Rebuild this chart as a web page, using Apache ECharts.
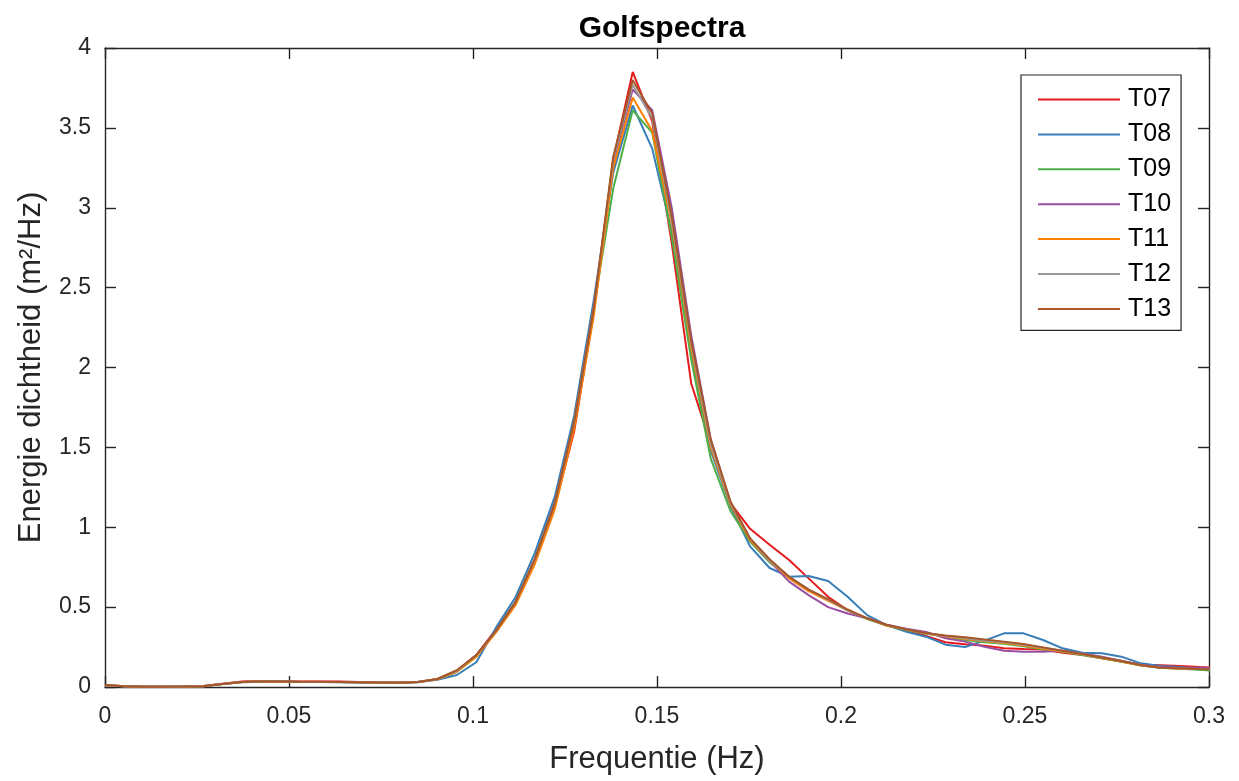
<!DOCTYPE html>
<html>
<head>
<meta charset="utf-8">
<script src="https://cdn.jsdelivr.net/npm/echarts@6/dist/echarts.min.js"></script>
<style>html,body{margin:0;padding:0;background:#fff}#c{width:1239px;height:781px}</style>
</head>
<body>
<div id="c"></div>
<script>
const freqs = [0,0.0053,0.0106,0.0159,0.0212,0.0266,0.0319,0.0372,0.0425,0.0478,0.0531,0.0584,0.0637,0.0690,0.0744,0.0797,0.0850,0.0903,0.0956,0.1009,0.1062,0.1115,0.1168,0.1222,0.1275,0.1328,0.1381,0.1434,0.1487,0.1540,0.1593,0.1646,0.1700,0.1753,0.1806,0.1859,0.1912,0.1965,0.2018,0.2071,0.2124,0.2178,0.2231,0.2284,0.2337,0.2390,0.2443,0.2496,0.2549,0.2602,0.2656,0.2709,0.2762,0.2815,0.2868,0.2921,0.2974,0.3027];
const seriesNames = ['T07','T08','T09','T10','T11','T12','T13'];
const T07 = [0.012,0.005,0.002,0.002,0.003,0.006,0.02,0.034,0.037,0.036,0.034,0.035,0.035,0.032,0.03,0.028,0.032,0.05,0.1,0.2,
 0.36,0.53,0.8,1.13,1.6,2.35,3.3,3.85,3.54,2.78,1.9,1.52,1.15,0.99,0.89,0.795,0.68,0.565,0.48,0.43,0.385,0.355,0.32,0.28,0.267,0.259,0.242,0.238,0.235,0.215,0.2,0.18,0.16,0.14,0.136,0.132,0.125,0.12];
const T08 = [0.01,0.004,0.002,0.002,0.003,0.005,0.018,0.03,0.033,0.033,0.031,0.031,0.03,0.028,0.027,0.026,0.03,0.045,0.075,0.155,
 0.37,0.56,0.84,1.19,1.7,2.42,3.22,3.64,3.37,2.85,2.1,1.48,1.13,0.88,0.745,0.69,0.695,0.664,0.565,0.45,0.388,0.345,0.315,0.265,0.25,0.29,0.336,0.336,0.294,0.242,0.215,0.211,0.19,0.148,0.131,0.125,0.11,0.1];
const T09 = [0.011,0.004,0.002,0.002,0.003,0.005,0.018,0.031,0.034,0.034,0.032,0.032,0.031,0.029,0.028,0.027,0.031,0.048,0.095,0.19,
 0.35,0.53,0.8,1.15,1.66,2.37,3.12,3.61,3.47,2.82,2.05,1.43,1.1,0.91,0.78,0.69,0.61,0.545,0.48,0.425,0.385,0.355,0.335,0.315,0.294,0.28,0.27,0.255,0.235,0.22,0.2,0.18,0.158,0.135,0.12,0.115,0.108,0.1];
const T10 = [0.011,0.004,0.002,0.002,0.003,0.005,0.019,0.031,0.034,0.034,0.032,0.032,0.031,0.029,0.028,0.027,0.031,0.049,0.098,0.2,
 0.35,0.53,0.8,1.15,1.66,2.37,3.28,3.74,3.61,3.0,2.2,1.55,1.15,0.92,0.79,0.66,0.575,0.5,0.46,0.43,0.39,0.365,0.345,0.305,0.284,0.252,0.227,0.221,0.221,0.227,0.21,0.19,0.165,0.14,0.125,0.122,0.12,0.118];
const T11 = [0.011,0.004,0.002,0.002,0.003,0.005,0.018,0.031,0.034,0.033,0.032,0.032,0.031,0.029,0.028,0.027,0.031,0.048,0.095,0.19,
 0.34,0.51,0.77,1.11,1.62,2.32,3.25,3.69,3.48,2.9,2.12,1.5,1.14,0.92,0.79,0.68,0.6,0.54,0.48,0.43,0.385,0.36,0.335,0.318,0.3,0.287,0.275,0.26,0.24,0.222,0.205,0.182,0.16,0.135,0.12,0.115,0.112,0.11];
const T12 = [0.011,0.004,0.002,0.002,0.003,0.005,0.019,0.032,0.034,0.034,0.032,0.032,0.031,0.029,0.028,0.027,0.031,0.049,0.1,0.2,
 0.35,0.53,0.8,1.15,1.66,2.37,3.3,3.77,3.56,2.92,2.15,1.52,1.15,0.93,0.79,0.69,0.61,0.545,0.48,0.43,0.388,0.36,0.335,0.32,0.305,0.29,0.28,0.265,0.245,0.225,0.207,0.184,0.163,0.138,0.121,0.117,0.113,0.11];
const T13 = [0.012,0.004,0.002,0.002,0.003,0.005,0.019,0.032,0.035,0.034,0.033,0.033,0.032,0.03,0.028,0.027,0.032,0.05,0.105,0.2,
 0.35,0.53,0.8,1.15,1.66,2.37,3.32,3.8,3.59,2.95,2.17,1.55,1.16,0.93,0.8,0.69,0.61,0.55,0.485,0.43,0.39,0.36,0.338,0.322,0.311,0.298,0.284,0.269,0.248,0.227,0.207,0.184,0.163,0.138,0.121,0.117,0.113,0.11];
const colors = ['#e41a1c','#377eb8','#4daf4a','#984ea3','#ff7f00','#999999','#a65628'];
const allValues = [T07,T08,T09,T10,T11,T12,T13];

const FONT = '"Liberation Sans", Arial, Helvetica, sans-serif';
const AX = '#262626';
const chart = echarts.init(document.getElementById('c'), null, {renderer:'canvas'});

const series = seriesNames.map((n,i)=>({
  name:n, type:'line', showSymbol:false, symbol:'none', clip:true,
  data: freqs.map((f,j)=>[f, allValues[i][j]]),
  lineStyle:{color:colors[i], width:2}, itemStyle:{color:colors[i]},
  animation:false
}));

const axisCommon = {
  axisLine:{show:true, onZero:false, lineStyle:{color:AX, width:1.4}},
  axisTick:{show:true, inside:true, length:11, lineStyle:{color:AX, width:1.4}},
  splitLine:{show:false}
};

chart.setOption({
  animation:false,
  backgroundColor:'#fff',
  title:{text:'Golfspectra', left:657, textAlign:'center', top:9,
    textStyle:{fontFamily:FONT, fontSize:30, fontWeight:'bold', color:'#000'}},
  grid:{left:105, right:30, top:48, bottom:94, containLabel:false},
  legend:{
    orient:'vertical', left:1021, top:75,
    padding:[12,10,9,17],
    borderColor:AX, borderWidth:1.2, backgroundColor:'#fff',
    icon:'rect', itemWidth:82, itemHeight:2, itemGap:9.9,
    textStyle:{fontFamily:FONT, fontSize:25, color:'#000', lineHeight:25, padding:[0,0,0,3]},
    data:seriesNames
  },
  xAxis:[
    Object.assign({type:'value', min:0, max:0.3, interval:0.05, position:'bottom',
      name:'Frequentie (Hz)', nameLocation:'middle', nameGap:57,
      nameTextStyle:{fontFamily:FONT, fontSize:31, color:AX},
      axisLabel:{fontFamily:FONT, fontSize:23, color:AX, margin:18,
        formatter:v=>String(+v.toFixed(2))}}, axisCommon),
    Object.assign({type:'value', min:0, max:0.3, interval:0.05, position:'top',
      axisLabel:{show:false}}, axisCommon)
  ],
  yAxis:[
    Object.assign({type:'value', min:0, max:4, interval:0.5, position:'left',
      name:'Energie dichtheid (m²/Hz)', nameLocation:'middle', nameGap:58,
      nameTextStyle:{fontFamily:FONT, fontSize:31, color:AX},
      axisLabel:{fontFamily:FONT, fontSize:23, color:AX, margin:14,
        formatter:v=>String(+v.toFixed(1))}}, axisCommon),
    Object.assign({type:'value', min:0, max:4, interval:0.5, position:'right',
      axisLabel:{show:false}}, axisCommon)
  ],
  series: series
});
</script>
</body>
</html>
